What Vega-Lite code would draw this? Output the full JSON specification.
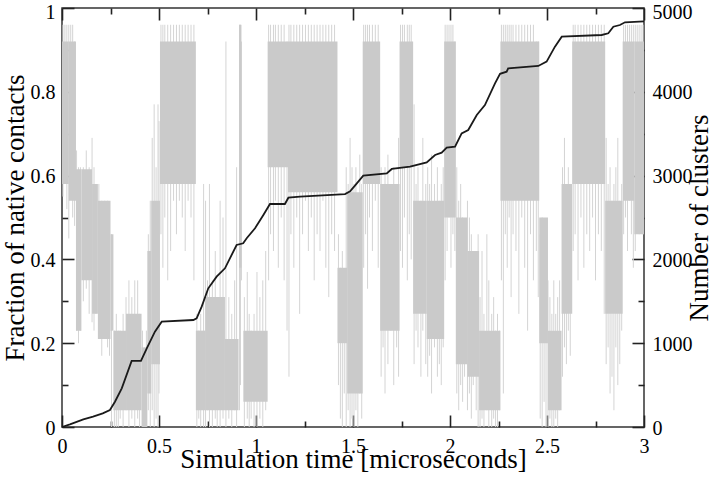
{
  "$schema": "https://vega.github.io/schema/vega-lite/v6.json",
  "width": 582,
  "height": 419,
  "autosize": {"type": "none"},
  "padding": {"left": 62, "top": 8, "right": 76, "bottom": 51},
  "background": "white",
  "config": {
    "view": {"stroke": "#333333", "strokeWidth": 1.5},
    "font": "Liberation Serif",
    "axis": {
      "grid": false,
      "domain": false,
      "zindex": 2,
      "ticks": true,
      "tickColor": "#222222",
      "tickOpacity": 1,
      "tickWidth": 1.6,
      "labelFont": "Liberation Serif",
      "labelFontSize": 20,
      "labelColor": "#000000",
      "titleFont": "Liberation Serif",
      "titleFontSize": 27,
      "titleFontWeight": "normal",
      "titleColor": "#000000",
      "labelOverlap": false,
      "labelFlush": false
    }
  },
  "datasets": {
    "bands": [
      {"t0": 0, "t1": 0.035, "lo": 0.58, "hi": 0.92},
      {"t0": 0.035, "t1": 0.072, "lo": 0.54, "hi": 0.92},
      {"t0": 0.072, "t1": 0.1, "lo": 0.23, "hi": 0.615},
      {"t0": 0.1, "t1": 0.155, "lo": 0.35, "hi": 0.615},
      {"t0": 0.155, "t1": 0.185, "lo": 0.27, "hi": 0.58},
      {"t0": 0.185, "t1": 0.25, "lo": 0.21, "hi": 0.54},
      {"t0": 0.25, "t1": 0.265, "lo": 0.23, "hi": 0.46},
      {"t0": 0.265, "t1": 0.33, "lo": 0.04, "hi": 0.23},
      {"t0": 0.33, "t1": 0.41, "lo": 0.04, "hi": 0.27},
      {"t0": 0.41, "t1": 0.44, "lo": 0.0, "hi": 0.19},
      {"t0": 0.44, "t1": 0.46, "lo": 0.08, "hi": 0.42},
      {"t0": 0.46, "t1": 0.505, "lo": 0.15, "hi": 0.54},
      {"t0": 0.505, "t1": 0.69, "lo": 0.58, "hi": 0.92},
      {"t0": 0.69, "t1": 0.74, "lo": 0.04, "hi": 0.23},
      {"t0": 0.74, "t1": 0.84, "lo": 0.04, "hi": 0.31},
      {"t0": 0.84, "t1": 0.91, "lo": 0.04, "hi": 0.21},
      {"t0": 0.913, "t1": 0.925, "lo": 0.38, "hi": 0.96},
      {"t0": 0.935, "t1": 1.06, "lo": 0.06, "hi": 0.23},
      {"t0": 1.06, "t1": 1.165, "lo": 0.62, "hi": 0.92},
      {"t0": 1.165, "t1": 1.42, "lo": 0.56, "hi": 0.92},
      {"t0": 1.42, "t1": 1.47, "lo": 0.2, "hi": 0.38},
      {"t0": 1.47, "t1": 1.55, "lo": 0.08, "hi": 0.56},
      {"t0": 1.55, "t1": 1.64, "lo": 0.58, "hi": 0.92},
      {"t0": 1.64, "t1": 1.74, "lo": 0.23, "hi": 0.58},
      {"t0": 1.74, "t1": 1.81, "lo": 0.62, "hi": 0.92},
      {"t0": 1.81, "t1": 1.88, "lo": 0.27, "hi": 0.54},
      {"t0": 1.88, "t1": 1.97, "lo": 0.21, "hi": 0.54},
      {"t0": 1.97, "t1": 2.03, "lo": 0.5, "hi": 0.92},
      {"t0": 2.03, "t1": 2.09, "lo": 0.15, "hi": 0.5},
      {"t0": 2.09, "t1": 2.15, "lo": 0.12, "hi": 0.42},
      {"t0": 2.15, "t1": 2.26, "lo": 0.04, "hi": 0.23},
      {"t0": 2.26, "t1": 2.46, "lo": 0.54, "hi": 0.92},
      {"t0": 2.46, "t1": 2.505, "lo": 0.2, "hi": 0.5},
      {"t0": 2.505, "t1": 2.575, "lo": 0.04, "hi": 0.23},
      {"t0": 2.575, "t1": 2.63, "lo": 0.27, "hi": 0.58},
      {"t0": 2.63, "t1": 2.8, "lo": 0.58, "hi": 0.92},
      {"t0": 2.8, "t1": 2.89, "lo": 0.27, "hi": 0.54},
      {"t0": 2.89, "t1": 2.95, "lo": 0.54, "hi": 0.92},
      {"t0": 2.95, "t1": 3.0, "lo": 0.46, "hi": 0.92}
    ],
    "spikes": [
      {"t": 0.005, "lo": 0.55, "hi": 0.96}, {"t": 0.015, "lo": 0.6, "hi": 0.96}, {"t": 0.025, "lo": 0.52, "hi": 0.96}, {"t": 0.035, "lo": 0.45, "hi": 0.96}, {"t": 0.045, "lo": 0.58, "hi": 0.96}, {"t": 0.055, "lo": 0.5, "hi": 0.96}, {"t": 0.065, "lo": 0.48, "hi": 0.92},
      {"t": 0.075, "lo": 0.23, "hi": 0.66}, {"t": 0.085, "lo": 0.2, "hi": 0.62}, {"t": 0.095, "lo": 0.23, "hi": 0.62}, {"t": 0.11, "lo": 0.3, "hi": 0.62}, {"t": 0.125, "lo": 0.33, "hi": 0.66}, {"t": 0.14, "lo": 0.27, "hi": 0.62}, {"t": 0.155, "lo": 0.25, "hi": 0.69}, {"t": 0.165, "lo": 0.23, "hi": 0.62}, {"t": 0.175, "lo": 0.27, "hi": 0.58}, {"t": 0.19, "lo": 0.21, "hi": 0.58}, {"t": 0.205, "lo": 0.17, "hi": 0.54}, {"t": 0.22, "lo": 0.21, "hi": 0.54}, {"t": 0.235, "lo": 0.19, "hi": 0.54}, {"t": 0.245, "lo": 0.17, "hi": 0.5},
      {"t": 0.255, "lo": 0.0, "hi": 0.46}, {"t": 0.27, "lo": 0.0, "hi": 0.23}, {"t": 0.28, "lo": 0.0, "hi": 0.27}, {"t": 0.29, "lo": 0.0, "hi": 0.23}, {"t": 0.3, "lo": 0.02, "hi": 0.23}, {"t": 0.315, "lo": 0.0, "hi": 0.27}, {"t": 0.33, "lo": 0.04, "hi": 0.31}, {"t": 0.345, "lo": 0.0, "hi": 0.35}, {"t": 0.36, "lo": 0.02, "hi": 0.31}, {"t": 0.375, "lo": 0.0, "hi": 0.35}, {"t": 0.39, "lo": 0.02, "hi": 0.35}, {"t": 0.4, "lo": 0.0, "hi": 0.27}, {"t": 0.415, "lo": 0.0, "hi": 0.23}, {"t": 0.425, "lo": 0.0, "hi": 0.19}, {"t": 0.435, "lo": 0.0, "hi": 0.23}, {"t": 0.445, "lo": 0.04, "hi": 0.46},
      {"t": 0.455, "lo": 0.0, "hi": 0.54}, {"t": 0.465, "lo": 0.04, "hi": 0.69}, {"t": 0.475, "lo": 0.0, "hi": 0.77}, {"t": 0.485, "lo": 0.02, "hi": 0.62}, {"t": 0.495, "lo": 0.0, "hi": 0.77}, {"t": 0.5, "lo": 0.08, "hi": 0.73},
      {"t": 0.51, "lo": 0.46, "hi": 0.96}, {"t": 0.52, "lo": 0.38, "hi": 0.96}, {"t": 0.53, "lo": 0.5, "hi": 0.96}, {"t": 0.545, "lo": 0.35, "hi": 0.96}, {"t": 0.56, "lo": 0.42, "hi": 0.96}, {"t": 0.575, "lo": 0.54, "hi": 0.96}, {"t": 0.59, "lo": 0.46, "hi": 0.96}, {"t": 0.605, "lo": 0.54, "hi": 0.96}, {"t": 0.62, "lo": 0.5, "hi": 0.96}, {"t": 0.635, "lo": 0.42, "hi": 0.96}, {"t": 0.65, "lo": 0.54, "hi": 0.96}, {"t": 0.665, "lo": 0.5, "hi": 0.96}, {"t": 0.68, "lo": 0.35, "hi": 0.96},
      {"t": 0.695, "lo": 0.0, "hi": 0.27}, {"t": 0.705, "lo": 0.02, "hi": 0.23}, {"t": 0.715, "lo": 0.0, "hi": 0.27}, {"t": 0.73, "lo": 0.0, "hi": 0.58}, {"t": 0.74, "lo": 0.0, "hi": 0.54}, {"t": 0.75, "lo": 0.04, "hi": 0.35}, {"t": 0.76, "lo": 0.0, "hi": 0.58}, {"t": 0.775, "lo": 0.0, "hi": 0.35}, {"t": 0.79, "lo": 0.02, "hi": 0.42}, {"t": 0.8, "lo": 0.0, "hi": 0.31}, {"t": 0.815, "lo": 0.0, "hi": 0.54}, {"t": 0.83, "lo": 0.02, "hi": 0.5}, {"t": 0.845, "lo": 0.0, "hi": 0.92}, {"t": 0.86, "lo": 0.02, "hi": 0.31}, {"t": 0.875, "lo": 0.0, "hi": 0.27}, {"t": 0.89, "lo": 0.04, "hi": 0.35}, {"t": 0.9, "lo": 0.0, "hi": 0.62},
      {"t": 0.915, "lo": 0.04, "hi": 0.96}, {"t": 0.92, "lo": 0.1, "hi": 0.96}, {"t": 0.925, "lo": 0.35, "hi": 0.92},
      {"t": 0.94, "lo": 0.0, "hi": 0.31}, {"t": 0.955, "lo": 0.02, "hi": 0.37}, {"t": 0.965, "lo": 0.0, "hi": 0.27}, {"t": 0.975, "lo": 0.02, "hi": 0.23}, {"t": 0.99, "lo": 0.0, "hi": 0.27}, {"t": 1.005, "lo": 0.0, "hi": 0.37}, {"t": 1.02, "lo": 0.02, "hi": 0.31}, {"t": 1.035, "lo": 0.0, "hi": 0.35}, {"t": 1.05, "lo": 0.04, "hi": 0.42},
      {"t": 1.065, "lo": 0.35, "hi": 0.96}, {"t": 1.075, "lo": 0.46, "hi": 0.96}, {"t": 1.09, "lo": 0.42, "hi": 0.96}, {"t": 1.1, "lo": 0.54, "hi": 0.96}, {"t": 1.115, "lo": 0.38, "hi": 0.96}, {"t": 1.13, "lo": 0.5, "hi": 0.96}, {"t": 1.145, "lo": 0.35, "hi": 0.96}, {"t": 1.16, "lo": 0.23, "hi": 0.92}, {"t": 1.17, "lo": 0.12, "hi": 0.96}, {"t": 1.18, "lo": 0.46, "hi": 0.96}, {"t": 1.195, "lo": 0.38, "hi": 0.96}, {"t": 1.21, "lo": 0.5, "hi": 0.96}, {"t": 1.225, "lo": 0.27, "hi": 0.96}, {"t": 1.24, "lo": 0.46, "hi": 0.96}, {"t": 1.255, "lo": 0.54, "hi": 0.96}, {"t": 1.27, "lo": 0.42, "hi": 0.96}, {"t": 1.285, "lo": 0.5, "hi": 0.96}, {"t": 1.3, "lo": 0.35, "hi": 0.96}, {"t": 1.315, "lo": 0.46, "hi": 0.96}, {"t": 1.33, "lo": 0.42, "hi": 0.96}, {"t": 1.345, "lo": 0.54, "hi": 0.96}, {"t": 1.36, "lo": 0.38, "hi": 0.96}, {"t": 1.375, "lo": 0.31, "hi": 0.96}, {"t": 1.39, "lo": 0.46, "hi": 0.96}, {"t": 1.405, "lo": 0.42, "hi": 0.96},
      {"t": 1.425, "lo": 0.1, "hi": 0.46}, {"t": 1.435, "lo": 0.02, "hi": 0.38}, {"t": 1.445, "lo": 0.0, "hi": 0.42}, {"t": 1.455, "lo": 0.08, "hi": 0.35}, {"t": 1.465, "lo": 0.0, "hi": 0.62}, {"t": 1.475, "lo": 0.04, "hi": 0.58}, {"t": 1.485, "lo": 0.0, "hi": 0.69}, {"t": 1.495, "lo": 0.02, "hi": 0.62}, {"t": 1.505, "lo": 0.0, "hi": 0.58}, {"t": 1.515, "lo": 0.04, "hi": 0.62}, {"t": 1.525, "lo": 0.0, "hi": 0.54}, {"t": 1.535, "lo": 0.08, "hi": 0.65}, {"t": 1.545, "lo": 0.02, "hi": 0.58},
      {"t": 1.555, "lo": 0.38, "hi": 0.96}, {"t": 1.565, "lo": 0.46, "hi": 0.96}, {"t": 1.575, "lo": 0.33, "hi": 0.96}, {"t": 1.585, "lo": 0.5, "hi": 0.96}, {"t": 1.6, "lo": 0.42, "hi": 0.96}, {"t": 1.615, "lo": 0.54, "hi": 0.96}, {"t": 1.63, "lo": 0.38, "hi": 0.96},
      {"t": 1.645, "lo": 0.12, "hi": 0.62}, {"t": 1.655, "lo": 0.19, "hi": 0.58}, {"t": 1.665, "lo": 0.08, "hi": 0.62}, {"t": 1.68, "lo": 0.15, "hi": 0.65}, {"t": 1.695, "lo": 0.23, "hi": 0.58}, {"t": 1.71, "lo": 0.1, "hi": 0.62}, {"t": 1.725, "lo": 0.19, "hi": 0.58}, {"t": 1.735, "lo": 0.12, "hi": 0.69},
      {"t": 1.745, "lo": 0.42, "hi": 0.96}, {"t": 1.755, "lo": 0.38, "hi": 0.96}, {"t": 1.765, "lo": 0.5, "hi": 0.96}, {"t": 1.78, "lo": 0.35, "hi": 0.96}, {"t": 1.79, "lo": 0.46, "hi": 0.96}, {"t": 1.8, "lo": 0.4, "hi": 0.96},
      {"t": 1.815, "lo": 0.15, "hi": 0.77}, {"t": 1.825, "lo": 0.23, "hi": 0.58}, {"t": 1.835, "lo": 0.19, "hi": 0.62}, {"t": 1.85, "lo": 0.12, "hi": 0.54}, {"t": 1.86, "lo": 0.23, "hi": 0.69}, {"t": 1.875, "lo": 0.15, "hi": 0.58}, {"t": 1.885, "lo": 0.12, "hi": 0.62}, {"t": 1.895, "lo": 0.17, "hi": 0.58}, {"t": 1.905, "lo": 0.08, "hi": 0.65}, {"t": 1.92, "lo": 0.19, "hi": 0.58}, {"t": 1.935, "lo": 0.12, "hi": 0.62}, {"t": 1.945, "lo": 0.15, "hi": 0.54}, {"t": 1.955, "lo": 0.1, "hi": 0.58}, {"t": 1.965, "lo": 0.19, "hi": 0.62},
      {"t": 1.975, "lo": 0.35, "hi": 0.96}, {"t": 1.985, "lo": 0.42, "hi": 0.96}, {"t": 1.995, "lo": 0.5, "hi": 0.96}, {"t": 2.005, "lo": 0.38, "hi": 0.96}, {"t": 2.015, "lo": 0.46, "hi": 0.96}, {"t": 2.025, "lo": 0.42, "hi": 0.92},
      {"t": 2.035, "lo": 0.08, "hi": 0.62}, {"t": 2.045, "lo": 0.04, "hi": 0.54}, {"t": 2.055, "lo": 0.1, "hi": 0.58}, {"t": 2.065, "lo": 0.06, "hi": 0.5}, {"t": 2.075, "lo": 0.12, "hi": 0.46}, {"t": 2.09, "lo": 0.04, "hi": 0.54}, {"t": 2.1, "lo": 0.08, "hi": 0.5}, {"t": 2.11, "lo": 0.02, "hi": 0.46}, {"t": 2.12, "lo": 0.1, "hi": 0.38}, {"t": 2.135, "lo": 0.04, "hi": 0.42}, {"t": 2.145, "lo": 0.0, "hi": 0.46},
      {"t": 2.155, "lo": 0.0, "hi": 0.31}, {"t": 2.165, "lo": 0.02, "hi": 0.42}, {"t": 2.175, "lo": 0.0, "hi": 0.27}, {"t": 2.19, "lo": 0.04, "hi": 0.46}, {"t": 2.2, "lo": 0.0, "hi": 0.35}, {"t": 2.215, "lo": 0.0, "hi": 0.27}, {"t": 2.225, "lo": 0.02, "hi": 0.31}, {"t": 2.235, "lo": 0.0, "hi": 0.23}, {"t": 2.245, "lo": 0.0, "hi": 0.27}, {"t": 2.255, "lo": 0.04, "hi": 0.23},
      {"t": 2.265, "lo": 0.35, "hi": 0.96}, {"t": 2.275, "lo": 0.08, "hi": 0.96}, {"t": 2.285, "lo": 0.46, "hi": 0.96}, {"t": 2.295, "lo": 0.38, "hi": 0.96}, {"t": 2.305, "lo": 0.5, "hi": 0.96}, {"t": 2.315, "lo": 0.31, "hi": 0.96}, {"t": 2.325, "lo": 0.46, "hi": 0.96}, {"t": 2.34, "lo": 0.42, "hi": 0.96}, {"t": 2.355, "lo": 0.27, "hi": 0.96}, {"t": 2.37, "lo": 0.5, "hi": 0.96}, {"t": 2.385, "lo": 0.38, "hi": 0.96}, {"t": 2.4, "lo": 0.23, "hi": 0.96}, {"t": 2.415, "lo": 0.46, "hi": 0.96}, {"t": 2.43, "lo": 0.35, "hi": 0.96}, {"t": 2.445, "lo": 0.42, "hi": 0.92}, {"t": 2.455, "lo": 0.31, "hi": 0.92},
      {"t": 2.465, "lo": 0.02, "hi": 0.46}, {"t": 2.475, "lo": 0.0, "hi": 0.5}, {"t": 2.485, "lo": 0.06, "hi": 0.42}, {"t": 2.495, "lo": 0.0, "hi": 0.46}, {"t": 2.505, "lo": 0.0, "hi": 0.35}, {"t": 2.515, "lo": 0.02, "hi": 0.31}, {"t": 2.525, "lo": 0.0, "hi": 0.27}, {"t": 2.535, "lo": 0.0, "hi": 0.35}, {"t": 2.545, "lo": 0.02, "hi": 0.27}, {"t": 2.555, "lo": 0.0, "hi": 0.31}, {"t": 2.565, "lo": 0.04, "hi": 0.35},
      {"t": 2.58, "lo": 0.12, "hi": 0.62}, {"t": 2.59, "lo": 0.19, "hi": 0.69}, {"t": 2.6, "lo": 0.15, "hi": 0.58}, {"t": 2.61, "lo": 0.23, "hi": 0.62}, {"t": 2.62, "lo": 0.17, "hi": 0.58},
      {"t": 2.635, "lo": 0.42, "hi": 0.96}, {"t": 2.645, "lo": 0.46, "hi": 0.96}, {"t": 2.66, "lo": 0.35, "hi": 0.96}, {"t": 2.675, "lo": 0.5, "hi": 0.96}, {"t": 2.69, "lo": 0.38, "hi": 0.96}, {"t": 2.705, "lo": 0.46, "hi": 0.96}, {"t": 2.72, "lo": 0.42, "hi": 0.96}, {"t": 2.735, "lo": 0.5, "hi": 0.96}, {"t": 2.75, "lo": 0.35, "hi": 0.96}, {"t": 2.765, "lo": 0.46, "hi": 0.96}, {"t": 2.78, "lo": 0.42, "hi": 0.96}, {"t": 2.795, "lo": 0.27, "hi": 0.96},
      {"t": 2.805, "lo": 0.15, "hi": 0.69}, {"t": 2.815, "lo": 0.19, "hi": 0.58}, {"t": 2.825, "lo": 0.08, "hi": 0.62}, {"t": 2.835, "lo": 0.12, "hi": 0.54}, {"t": 2.845, "lo": 0.04, "hi": 0.58}, {"t": 2.855, "lo": 0.19, "hi": 0.62}, {"t": 2.865, "lo": 0.1, "hi": 0.69}, {"t": 2.875, "lo": 0.15, "hi": 0.54}, {"t": 2.885, "lo": 0.23, "hi": 0.58},
      {"t": 2.895, "lo": 0.46, "hi": 0.96}, {"t": 2.905, "lo": 0.5, "hi": 0.96}, {"t": 2.915, "lo": 0.42, "hi": 0.96}, {"t": 2.925, "lo": 0.54, "hi": 0.96}, {"t": 2.935, "lo": 0.46, "hi": 0.96}, {"t": 2.945, "lo": 0.38, "hi": 0.96}, {"t": 2.955, "lo": 0.42, "hi": 0.96}, {"t": 2.965, "lo": 0.5, "hi": 0.96}, {"t": 2.975, "lo": 0.46, "hi": 0.96}, {"t": 2.985, "lo": 0.54, "hi": 0.96}, {"t": 2.995, "lo": 0.46, "hi": 0.96}
    ],
    "clusters": [
      {"t": 0, "n": 0}, {"t": 0.041, "n": 32}, {"t": 0.11, "n": 92}, {"t": 0.16, "n": 123}, {"t": 0.21, "n": 163}, {"t": 0.247, "n": 203},
      {"t": 0.273, "n": 302}, {"t": 0.308, "n": 462}, {"t": 0.359, "n": 788}, {"t": 0.407, "n": 788}, {"t": 0.437, "n": 939}, {"t": 0.479, "n": 1137},
      {"t": 0.514, "n": 1257}, {"t": 0.677, "n": 1277}, {"t": 0.694, "n": 1297}, {"t": 0.72, "n": 1436}, {"t": 0.754, "n": 1655}, {"t": 0.797, "n": 1794},
      {"t": 0.84, "n": 1894}, {"t": 0.9, "n": 2172}, {"t": 0.934, "n": 2192}, {"t": 0.952, "n": 2252}, {"t": 0.995, "n": 2371}, {"t": 1.038, "n": 2530},
      {"t": 1.072, "n": 2661}, {"t": 1.149, "n": 2661}, {"t": 1.167, "n": 2736}, {"t": 1.227, "n": 2748}, {"t": 1.459, "n": 2780}, {"t": 1.485, "n": 2812},
      {"t": 1.51, "n": 2880}, {"t": 1.553, "n": 2999}, {"t": 1.674, "n": 3027}, {"t": 1.7, "n": 3079}, {"t": 1.794, "n": 3106}, {"t": 1.88, "n": 3158},
      {"t": 1.923, "n": 3246}, {"t": 1.957, "n": 3273}, {"t": 1.983, "n": 3333}, {"t": 2.026, "n": 3345}, {"t": 2.06, "n": 3504}, {"t": 2.094, "n": 3544},
      {"t": 2.138, "n": 3723}, {"t": 2.18, "n": 3842}, {"t": 2.232, "n": 4101}, {"t": 2.258, "n": 4215}, {"t": 2.292, "n": 4240}, {"t": 2.3, "n": 4280},
      {"t": 2.455, "n": 4308}, {"t": 2.498, "n": 4360}, {"t": 2.541, "n": 4539}, {"t": 2.576, "n": 4658}, {"t": 2.782, "n": 4678}, {"t": 2.816, "n": 4698},
      {"t": 2.842, "n": 4777}, {"t": 2.876, "n": 4797}, {"t": 2.902, "n": 4829}, {"t": 3.0, "n": 4840}
    ]
  },
  "layer": [
    {
      "layer": [
        {
          "data": {"name": "spikes"},
          "mark": {"type": "rule", "color": "#d4d4d4", "strokeWidth": 1},
          "encoding": {
            "x": {
              "field": "t", "type": "quantitative",
              "scale": {"domain": [0, 3], "nice": false},
              "axis": {
                "orient": "bottom",
                "title": "Simulation time [microseconds]",
                "values": [0, 0.5, 1, 1.5, 2, 2.5, 3],
                "format": "~g",
                "offset": -12,
                "ticks": true,
                "tickColor": "#222222",
                "tickSize": 12,
                "labelPadding": 9,
                "titleBaseline": "alphabetic",
                "titleY": 52
              }
            },
            "y": {
              "field": "lo", "type": "quantitative",
              "scale": {"domain": [0, 1], "nice": false},
              "axis": {
                "orient": "left",
                "title": "Fraction of native contacts",
                "values": [0, 0.2, 0.4, 0.6, 0.8, 1],
                "format": "~g",
                "offset": -12,
                "ticks": true,
                "tickColor": "#222222",
                "tickSize": 12,
                "labelPadding": 7,
                "labelOffset": {"condition": {"test": "datum.value == 1", "value": 4}, "value": 1},
                "titlePadding": 1
              }
            },
            "y2": {"field": "hi"}
          }
        },
        {
          "data": {"name": "bands"},
          "mark": {"type": "rect", "color": "#cacaca"},
          "encoding": {
            "x": {
              "field": "t0", "type": "quantitative",
              "axis": {"orient": "bottom", "title": null, "labels": false, "ticks": true, "tickColor": "#222222", "values": [0.25, 0.75, 1.25, 1.75, 2.25, 2.75], "offset": -6, "tickSize": 6}
            },
            "x2": {"field": "t1"},
            "y": {
              "field": "lo", "type": "quantitative",
              "axis": {"orient": "left", "title": null, "labels": false, "ticks": true, "tickColor": "#222222", "values": [0.1, 0.3, 0.5, 0.7, 0.9], "offset": -6, "tickSize": 6}
            },
            "y2": {"field": "hi"}
          }
        }
      ],
      "resolve": {"axis": {"x": "independent", "y": "independent"}}
    },
    {
      "layer": [
        {
          "data": {"name": "clusters"},
          "mark": {"type": "line", "color": "#1a1a1a", "strokeWidth": 1.8},
          "encoding": {
            "x": {
              "field": "t", "type": "quantitative",
              "scale": {"domain": [0, 3], "nice": false},
              "axis": {"orient": "top", "title": null, "labels": false, "ticks": true, "tickColor": "#222222", "values": [0, 0.5, 1, 1.5, 2, 2.5, 3], "offset": -12, "tickSize": 12}
            },
            "y": {
              "field": "n", "type": "quantitative",
              "scale": {"domain": [0, 5000], "nice": false},
              "axis": {
                "orient": "right",
                "title": "Number of clusters",
                "values": [0, 1000, 2000, 3000, 4000, 5000],
                "format": "d",
                "offset": -12,
                "ticks": true,
                "tickColor": "#222222",
                "tickSize": 12,
                "labelPadding": 8,
                "labelOffset": {"condition": {"test": "datum.value == 5000", "value": 4}, "value": 1},
                "titleAngle": -90,
                "titleBaseline": "top",
                "titlePadding": -6
              }
            }
          }
        },
        {
          "data": {"name": "clusters"},
          "mark": {"type": "line", "strokeOpacity": 0},
          "encoding": {
            "x": {
              "field": "t", "type": "quantitative",
              "axis": {"orient": "top", "title": null, "labels": false, "ticks": true, "tickColor": "#222222", "values": [0.25, 0.75, 1.25, 1.75, 2.25, 2.75], "offset": -6, "tickSize": 6}
            },
            "y": {
              "field": "n", "type": "quantitative",
              "axis": {"orient": "right", "title": null, "labels": false, "ticks": true, "tickColor": "#222222", "values": [500, 1500, 2500, 3500, 4500], "offset": -6, "tickSize": 6}
            }
          }
        }
      ],
      "resolve": {"axis": {"x": "independent", "y": "independent"}}
    }
  ],
  "resolve": {"scale": {"y": "independent"}, "axis": {"x": "independent"}}
}
